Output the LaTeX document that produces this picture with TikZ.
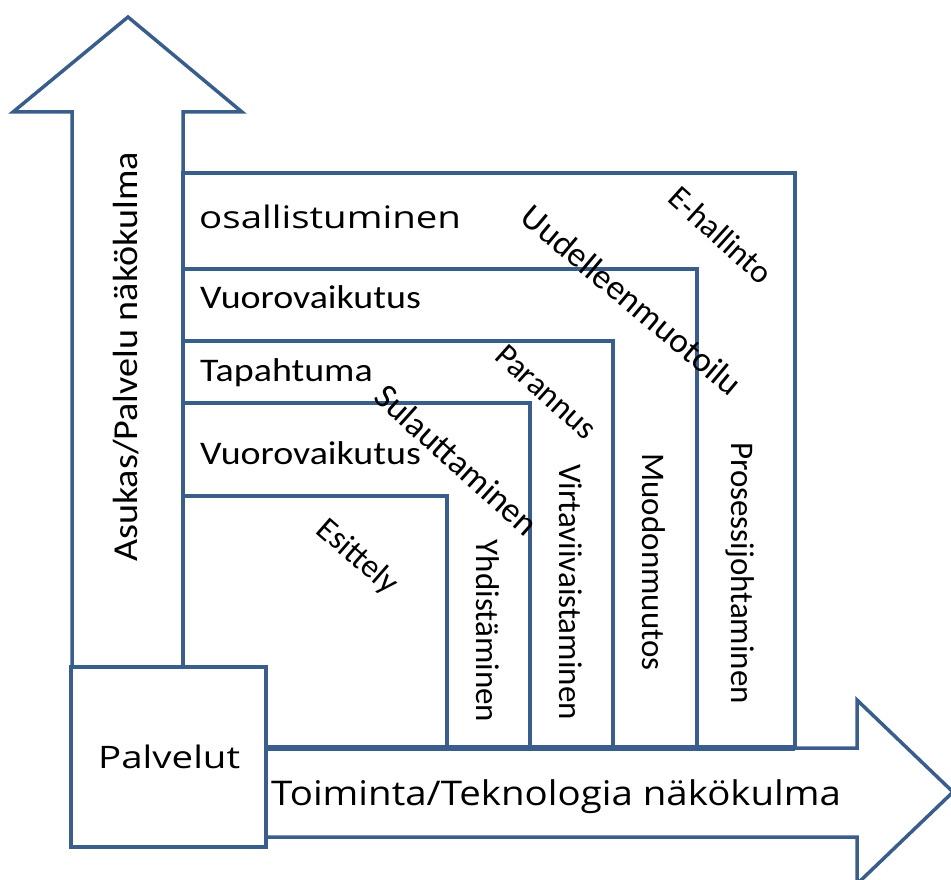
\documentclass[tikz,border=0pt]{standalone}
\usepackage{graphicx}
\usepackage{fontspec}
\setmainfont{Carlito}
\newfontfamily\headfont{Open Sans}
\definecolor{frame}{RGB}{58,94,140}
\newcommand{\hstretch}[2]{\scalebox{#1}[1]{#2}}
\begin{document}
\begin{tikzpicture}[x=1pt,y=-1pt,
  line/.style={draw=frame,line width=3.5pt,line join=miter},
  lab/.style={font=\fontsize{33}{34}\selectfont,inner sep=0pt},
  big/.style={font=\headfont\fontsize{31}{33}\selectfont,inner sep=0pt}]
\useasboundingbox (0,0) rectangle (951,880);
% vertical arrow
\draw[line,fill=white] (72,667) -- (72,112) -- (13,112) -- (128,17) -- (242,112) -- (183,112) -- (183,667) -- cycle;
% horizontal arrow
\draw[line,fill=white] (266,748) -- (857,748) -- (857,700) -- (953,792) -- (857,884) -- (857,837) -- (266,837) -- cycle;
% nested boxes
\draw[line] (183,173) rectangle (795,748);
\draw[line] (183,269) rectangle (697,748);
\draw[line] (183,341) rectangle (613,748);
\draw[line] (183,403) rectangle (530,748);
\draw[line] (183,496) rectangle (447,748);
\draw[draw=frame,line width=6pt] (266,748) -- (795,748);
% Palvelut box
\draw[line,fill=white] (71,667) rectangle (266,847);
\node[big,anchor=base west] (pal) at (98,768) {\hstretch{1.24}{Palvelut}};
% labels
\node[big,anchor=base west] (osa) at (199,229) {\hstretch{1.24}{osallistuminen}};
\node[lab,anchor=base west] (vu1) at (200,308) {\hstretch{1.15}{Vuorovaikutus}};
\node[lab,anchor=base west] (tap) at (200,381) {\hstretch{1.15}{Tapahtuma}};
\node[lab,anchor=base west] (vu2) at (200,464) {\hstretch{1.15}{Vuorovaikutus}};
\node[lab,rotate=-41] (esi) at (357,557) {Esittely};
\node[lab,rotate=-42,font=\fontsize{35}{36}\selectfont] (sul) at (457,460) {Sulauttaminen};
\node[lab,rotate=-42] (par) at (546,392) {Parannus};
\node[lab,rotate=-40,font=\fontsize{35}{36}\selectfont] (uud) at (632,300) {Uudelleenmuotoilu};
\node[lab,rotate=-42] (ehal) at (721,235) {E-hallinto};
\node[lab,rotate=-90] (yhd) at (488,631) {Yhdistäminen};
\node[lab,rotate=-90] (vir) at (571,592) {Virtaviivaistaminen};
\node[lab,rotate=-90] (muo) at (654,562) {Muodonmuutos};
\node[lab,rotate=-90] (pro) at (740,573) {Prosessijohtaminen};
\node[lab,rotate=90,font=\fontsize{35}{36}\selectfont] (asu) at (126,357) {\hstretch{1.09}{Asukas/Palvelu näkökulma}};
\node[big,anchor=base west,font=\headfont\fontsize{34}{36}\selectfont] (toi) at (271,805) {\hstretch{1.13}{Toiminta/Teknologia näkökulma}};
\end{tikzpicture}
\end{document}
